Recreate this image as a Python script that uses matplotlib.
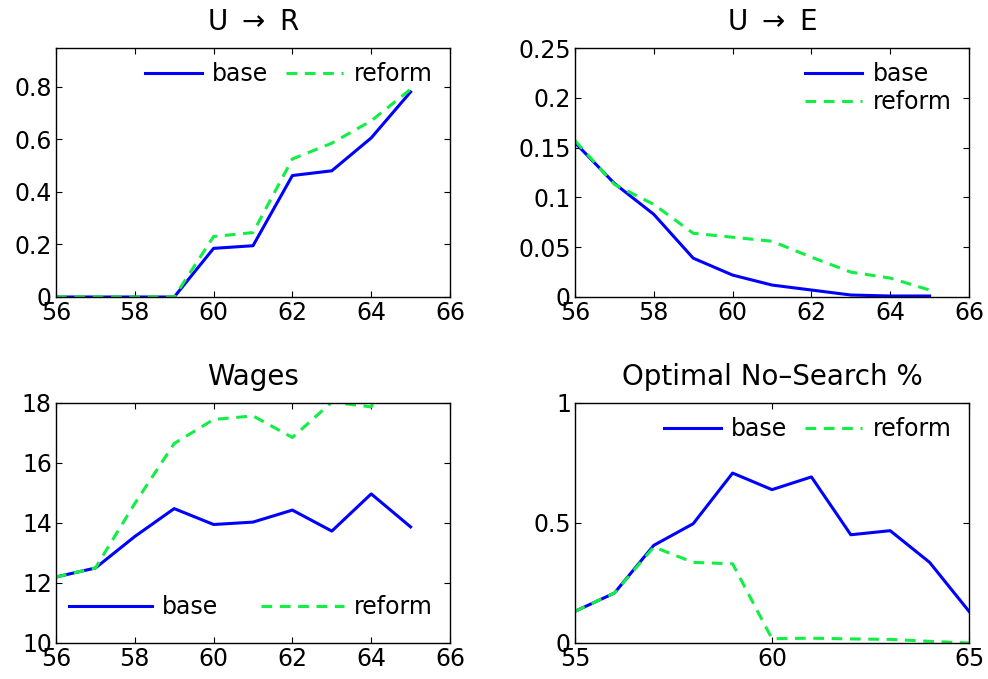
import matplotlib
matplotlib.use('Agg')
import matplotlib.pyplot as plt

plt.rcParams['font.family'] = ['DejaVu Sans']
plt.rcParams['font.size'] = 17

ages = [56, 57, 58, 59, 60, 61, 62, 63, 64, 65]
ages_ns = [55, 56, 57, 58, 59, 60, 61, 62, 63, 64, 65]

ur_base = [0, 0, 0, 0, 0.185, 0.195, 0.462, 0.48, 0.605, 0.78]
ur_reform = [0, 0, 0, 0, 0.23, 0.245, 0.525, 0.585, 0.67, 0.79]

ue_base = [0.155, 0.114, 0.083, 0.039, 0.022, 0.012, 0.007, 0.002, 0.001, 0.001]
ue_reform = [0.157, 0.113, 0.093, 0.064, 0.060, 0.056, 0.040, 0.025, 0.019, 0.007]

wage_base = [12.2, 12.5, 13.55, 14.48, 13.95, 14.03, 14.43, 13.73, 14.97, 13.87]
wage_reform = [12.2, 12.5, 14.65, 16.65, 17.45, 17.57, 16.85, 18.03, 17.87, 20.4]

ns_base = [0.132, 0.208, 0.407, 0.497, 0.708, 0.639, 0.692, 0.451, 0.468, 0.336, 0.132]
ns_reform = [0.132, 0.208, 0.40, 0.336, 0.33, 0.018, 0.02, 0.017, 0.015, 0.007, 0.0]

blue = '#0000ff'
green = '#11ee44'
dash = (0, (3.5, 2.5))
title_size = 20

fig = plt.figure(figsize=(9.88, 6.79), dpi=100)
W, H = 988.0, 679.0


def make_axes(x0, x1, y0, y1):
    ax = fig.add_axes([x0 / W, 1 - y1 / H, (x1 - x0) / W, (y1 - y0) / H])
    ax.tick_params(direction='in', top=True, right=True, length=4,
                   width=0.8, pad=3, labelsize=17)
    for s in ax.spines.values():
        s.set_linewidth(1.0)
    return ax


def draw(ax, x, b, r):
    ax.plot(x, b, color=blue, lw=2.2, label='base')
    ax.plot(x, r, color=green, lw=2.2, linestyle=dash, label='reform')


# U -> R
ax1 = make_axes(56, 450, 48, 297)
draw(ax1, ages, ur_base, ur_reform)
ax1.set_xlim(56, 66)
ax1.set_ylim(0, 0.947)
ax1.set_xticks([56, 58, 60, 62, 64, 66])
ax1.set_yticks([0, 0.2, 0.4, 0.6, 0.8])
ax1.set_yticklabels(['0', '0.2', '0.4', '0.6', '0.8'])
ax1.set_title(r'U $\rightarrow$ R', fontsize=title_size, pad=13)
ax1.legend(loc='upper right', ncol=2, frameon=False, handlelength=2.4,
           handletextpad=0.45, columnspacing=0.75, borderaxespad=0.1,
           bbox_to_anchor=(0.985, 0.99), fontsize=17)

# U -> E
ax2 = make_axes(575, 969, 48, 297)
draw(ax2, ages, ue_base, ue_reform)
ax2.set_xlim(56, 66)
ax2.set_ylim(0, 0.25)
ax2.set_xticks([56, 58, 60, 62, 64, 66])
ax2.set_yticks([0, 0.05, 0.1, 0.15, 0.2, 0.25])
ax2.set_yticklabels(['0', '0.05', '0.1', '0.15', '0.2', '0.25'])
ax2.set_title(r'U $\rightarrow$ E', fontsize=title_size, pad=13)
ax2.legend(loc='upper right', ncol=1, frameon=False, handlelength=2.4,
           handletextpad=0.45, labelspacing=0.15, borderaxespad=0.1,
           bbox_to_anchor=(0.985, 0.99), fontsize=17)

# Wages
ax3 = make_axes(56, 450, 403, 643)
draw(ax3, ages, wage_base, wage_reform)
ax3.set_xlim(56, 66)
ax3.set_ylim(10, 18)
ax3.set_xticks([56, 58, 60, 62, 64, 66])
ax3.set_yticks([10, 12, 14, 16, 18])
ax3.set_title('Wages', fontsize=title_size, pad=13)
ax3.legend(loc='lower center', ncol=2, frameon=False, handlelength=3.5,
           handletextpad=0.45, columnspacing=1.8, borderaxespad=0.1,
           bbox_to_anchor=(0.495, 0.05), fontsize=17)

# Optimal no-search share
ax4 = make_axes(575, 969, 403, 643)
draw(ax4, ages_ns, ns_base, ns_reform)
ax4.set_xlim(55, 65)
ax4.set_ylim(0, 1)
ax4.set_xticks([55, 60, 65])
ax4.set_yticks([0, 0.5, 1])
ax4.set_yticklabels(['0', '0.5', '1'])
ax4.set_title('Optimal No\u2013Search %', fontsize=title_size, pad=13)
ax4.legend(loc='upper right', ncol=2, frameon=False, handlelength=2.4,
           handletextpad=0.45, columnspacing=0.75, borderaxespad=0.1,
           bbox_to_anchor=(0.985, 0.99), fontsize=17)

fig.savefig('out.png', dpi=100)
